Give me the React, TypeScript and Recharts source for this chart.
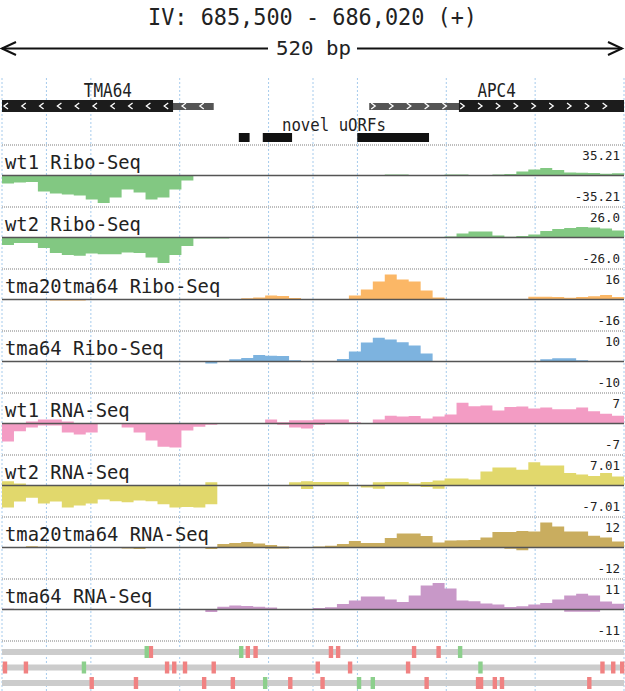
import React from "react";
import {
  AreaChart,
  Area,
  ScatterChart,
  Scatter,
  XAxis,
  YAxis,
  CartesianGrid,
  ReferenceLine,
  ReferenceArea,
} from "recharts";

// window covered: 520 bp, drawn in 10 bp bins
const SPAN = 520;
const BIN = 10;
const W = 625;
const TRACK_H = 62;
const FONT = "'DejaVu Sans Mono', monospace";
const INK = "#222";
const GRID = "#a6cbec";
const SEP = "#bdbdbd";
const M = { top: 0, right: 1, bottom: 0, left: 2 };

const gridTicks = [0, 37.14, 74.29, 111.43, 148.57, 185.71, 222.86, 260, 297.14, 334.29, 371.43, 408.57, 445.71, 482.86, 520];

// ---- coverage tracks (plus strand above, minus strand below) ----
const wt1RiboPlus = [
  0, 0, 0, 0, 0, 0, 0, 0, 0, 0,
  0, 0, 0, 0, 0, 0, 0, 0, 0, 0,
  0, 0, 0, 0, 0, 0, 0, 0, 0, 0,
  0, 0.6, 1.3, 1.3, 0, 0, 0.6, 1.3, 1.3, 0.6,
  0, 1.3, 1.9, 5.1, 7.7, 9.6, 7.0, 3.8, 3.5, 3.2,
  2.2, 2.9,
];
const wt1RiboMinus = [
  -10.2, -9.0, -8.3, -20.5, -23.0, -24.3, -25.6, -30.7, -35.2, -28.2,
  -17.9, -21.8, -30.7, -28.2, -17.9, -6.4, 0, 0, 0, 0,
  0, 0, 0, 0, 0, 0, 0, 0, 0, 0,
  0, 0, 0, 0, 0, 0, 0, 0, 0, 0,
  0, 0, 0, 0, 0, 0, 0, 0, 0, 0,
  0, 0,
];
const wt2RiboPlus = [
  0, 0, 0, 0, 0, 0, 0, 0, 0, 0,
  0, 0, 0, 0, 0, 0, 0, 0, 0, 0,
  0, 0, 0, 0, 0, 0, 0, 0, 0, 0,
  0, 0, 0, 0, 0, 0, 0, 0.9, 3.8, 5.7,
  5.7, 1.9, 0.8, 1.4, 2.8, 6.1, 8.0, 9.0, 9.9, 9.5,
  8.5, 6.6,
];
const wt2RiboMinus = [
  -7.0, -5.2, -5.2, -10.0, -14.6, -16.5, -17.2, -15.1, -15.8, -15.8,
  -14.2, -14.6, -18.9, -24.0, -16.5, -8.0, -0.9, -0.9, -0.9, -0.5,
  0, 0, 0, 0, 0, 0, 0, 0, 0, 0,
  0, 0, 0, 0, 0, 0, 0, 0, 0, 0,
  0, 0, 0, 0, 0, 0, 0, 0, 0, 0,
  0, 0,
];
const dblRiboPlus = [
  0, 0, 0, 0, 0, 0, 0, 0, 0, 0,
  0, 0, 0, 0, 0, 0, 0, 0, 0, 0,
  0.7, 1.2, 2.3, 2.0, 0.9, 0, 0, 0, 0, 2.3,
  5.8, 10.5, 14.5, 11.6, 10.5, 5.2, 1.2, 0, 0, 0,
  0, 0, 0, 0, 1.6, 1.6, 1.5, 1.0, 1.5, 1.9,
  2.6, 1.5,
];
const dblRiboMinus = [
  0, 0, 0, 0, -0.6, -0.6, -0.6, 0, 0, 0,
  0, 0, 0, 0, 0, 0, 0, 0, 0, 0,
  0, 0, 0, 0, 0, 0, 0, 0, 0, 0,
  0, 0, 0, 0, 0, 0, 0, 0, 0, 0,
  0, 0, 0, 0, 0, 0, 0, 0, 0, 0,
  0, 0,
];
const tma64RiboPlus = [
  0, 0, 0, 0, 0, 0, 0, 0, 0, 0,
  0, 0, 0, 0, 0, 0, 0, 0, 0, 0.8,
  1.3, 2.4, 2.1, 2.0, 0.5, 0, 0, 0, 0.9, 3.6,
  6.9, 8.6, 8.0, 7.0, 5.8, 2.9, 0.2, 0, 0, 0,
  0, 0, 0, 0, 0, 0.8, 1.2, 1.2, 0.5, 0,
  0, 0,
];
const tma64RiboMinus = [
  0, 0, 0, 0, 0, 0, 0, 0, 0, 0,
  0, 0, 0, 0, 0, 0, 0, -0.7, 0, 0,
  0, 0, 0, 0, 0, 0, 0, 0, 0, 0,
  0, 0, 0, 0, 0, 0, 0, 0, 0, 0,
  0, 0, 0, 0, 0, 0, 0, 0, 0, 0,
  0, 0,
];
const wt1RnaPlus = [
  0, 0, 0.5, 1.0, 1.0, 0.5, 0, 0, 0, 0,
  0, 0, 0, 0, 0, 0, 0, 0, 0, 0,
  0, 0, 1.0, 0.3, 0.8, 0.8, 1.0, 1.0, 1.0, 0.3,
  0, 1.0, 2.0, 1.8, 1.9, 1.3, 1.8, 2.3, 5.3, 4.4,
  4.6, 3.3, 4.2, 4.3, 3.8, 4.1, 3.6, 3.6, 4.1, 3.1,
  2.5, 2.0,
];
const wt1RnaMinus = [
  -4.6, -2.0, -1.0, -0.5, -0.5, -2.3, -2.8, -2.3, 0, 0,
  -1.0, -2.3, -4.3, -5.9, -6.1, -1.8, -0.8, -0.3, 0, 0,
  0, 0, 0, -0.3, -1.0, -1.3, -0.3, 0, 0, 0,
  0, 0, 0, 0, 0, 0, 0, 0, 0, 0,
  0, 0, 0, 0, 0, 0, 0, 0, 0, 0,
  0, 0,
];
const wt2RnaPlus = [
  1.1, 0.5, 0, 0, 0, 0, 0, 0, 0, 0,
  0, 0, 0, 0, 0, 0, 0, 0.8, 0, 0,
  0, 0, 0, 0, 0.8, 1.1, 0.9, 0.9, 0.9, 0,
  0, 0.8, 0.9, 0.9, 0.5, 0.9, 1.3, 1.8, 1.8, 1.5,
  3.6, 4.6, 4.6, 4.0, 5.9, 5.1, 5.1, 3.2, 2.8, 2.4,
  3.2, 2.3,
];
const wt2RnaMinus = [
  -5.6, -4.1, -3.1, -4.6, -4.1, -5.6, -5.1, -4.6, -3.6, -4.0,
  -4.3, -3.8, -4.0, -4.8, -5.6, -5.5, -5.6, -4.8, 0, 0,
  0, 0, 0, 0, 0, -0.9, 0, 0, 0, 0,
  -0.5, -0.8, 0, 0, 0, -0.4, -0.8, 0, 0, 0,
  0, 0, 0, 0, 0, 0, 0, 0, 0, 0,
  0, 0,
];
const dblRnaPlus = [
  0, 0, 0.5, 0.3, 0, 0, 0, 0, 0, 0,
  0, 0, 0, 0, 0, 0, 0, 0, 1.5, 2.0,
  2.4, 1.7, 1.1, 0.4, 0, 0, 0.4, 0.8, 1.5, 2.8,
  2.0, 2.0, 4.1, 6.1, 6.1, 5.0, 2.2, 3.1, 3.2, 3.3,
  4.4, 6.8, 6.8, 7.2, 7.0, 10.9, 9.2, 7.0, 7.0, 5.1,
  4.4, 2.6,
];
const dblRnaMinus = [
  0, 0, 0, 0, 0, 0, 0, 0, 0, 0,
  -0.4, -0.7, 0, 0, 0, 0, 0, -0.7, 0, 0,
  0, 0, -0.4, -0.4, 0, 0, 0, 0, 0, 0,
  0, 0, 0, 0, 0, 0, 0, 0, 0, 0,
  0, 0, -0.5, -1.2, 0, 0, 0, 0, 0, 0,
  0, 0,
];
const tma64RnaPlus = [
  0.3, 0, 0, 0, 0, 0, 0, 0, 0, 0,
  0, 0, 0, 0, 0, 0, 0, 0.2, 1.1, 1.6,
  1.4, 1.1, 0.8, 0, 0, 0, 0.6, 0.9, 2.2, 3.6,
  5.2, 5.2, 4.0, 3.0, 5.6, 9.6, 10.6, 8.4, 3.6, 3.3,
  2.4, 2.0, 1.0, 1.3, 2.0, 2.6, 4.0, 5.6, 6.3, 5.6,
  3.2, 2.3,
];
const tma64RnaMinus = [
  0, 0, 0, 0, 0, 0, 0, 0, 0, 0,
  0, 0, 0, 0, 0, 0, 0, -1.0, 0, 0,
  0, 0, 0, 0, 0, 0, 0, 0, 0, 0,
  0, 0, 0, 0, 0, 0, 0, 0, 0, 0,
  0, 0, 0, 0, 0, 0, 0, -0.9, -0.9, -0.9,
  -0.2, 0,
];

const trackNames = [
  "wt1 Ribo-Seq", "wt2 Ribo-Seq", "tma20tma64 Ribo-Seq", "tma64 Ribo-Seq",
  "wt1 RNA-Seq", "wt2 RNA-Seq", "tma20tma64 RNA-Seq", "tma64 RNA-Seq",
];
const trackMaxLabels = ["35.21", "26.0", "16", "10", "7", "7.01", "12", "11"];
const trackColors = ["#82c882", "#82c882", "#fbb766", "#7db3df", "#f39cc4", "#e1d86c", "#c9ad5f", "#c898c8"];
const trackPlus = [wt1RiboPlus, wt2RiboPlus, dblRiboPlus, tma64RiboPlus, wt1RnaPlus, wt2RnaPlus, dblRnaPlus, tma64RnaPlus];
const trackMinus = [wt1RiboMinus, wt2RiboMinus, dblRiboMinus, tma64RiboMinus, wt1RnaMinus, wt2RnaMinus, dblRnaMinus, tma64RnaMinus];

// ---- annotation (bp from window start) ----
const geneNames = ["TMA64", "APC4"];
const geneStrands = ["-", "+"];
const geneStarts = [0, 307];
const geneEnds = [177, 520];
const cdsStarts = [0, 382];
const cdsEnds = [143, 520];
const uorfStarts = [198, 218, 297];
const uorfEnds = [207, 242.5, 357];

// ---- start / stop codons per reading frame ----
const frames = [1, 2, 3];
const startCodons = [
  [121, 200, 383],
  [68.5, 400],
  [220, 298.5, 310],
];
const stopCodons = [
  [124.5, 205.5, 212, 275, 281, 344.5, 365],
  [2.5, 20, 138, 144, 153, 177, 264, 291, 339.5, 502, 511, 518.5],
  [75, 112, 169, 193, 241, 268, 355, 398, 400.5, 412, 418, 491],
];

const txt = { fontFamily: FONT, fill: INK };

function Header() {
  return (
    <svg width={W} height={78} style={{ display: "block" }}>
      <text x={312.5} y={25} textAnchor="middle" fontSize={22.5} textLength={329} lengthAdjust="spacingAndGlyphs" {...txt}>
        IV: 685,500 - 686,020 (+)
      </text>
      <g stroke="#111" strokeWidth={2} fill="none">
        <line x1={2} y1={48.5} x2={268} y2={48.5} />
        <line x1={357} y1={48.5} x2={622} y2={48.5} />
        <polyline points="16,42 2,48.5 16,55" />
        <polyline points="608,42 622,48.5 608,55" />
      </g>
      <text x={313.5} y={55} textAnchor="middle" fontSize={20} textLength={75} lengthAdjust="spacingAndGlyphs" {...txt}>
        520 bp
      </text>
    </svg>
  );
}

const chevrons = (strand: string) => (p: any) => {
  const { x, y, width, height } = p;
  const cy = y + height / 2;
  const marks = [];
  for (let cx = x + 4; cx < x + width - 2; cx += 17.8) {
    const pts = strand === "-"
      ? `${cx + 2},${cy - 3} ${cx - 2},${cy} ${cx + 2},${cy + 3}`
      : `${cx - 2},${cy - 3} ${cx + 2},${cy} ${cx - 2},${cy + 3}`;
    marks.push(<polyline key={cx} points={pts} fill="none" stroke="#fff" strokeWidth={1.3} />);
  }
  return <g>{marks}</g>;
};

function GeneTrack() {
  const labels = geneNames.map((n, i) => ({ pos: (geneStarts[i] + geneEnds[i]) / 2, row: 18.5, label: n, size: 19, len: n.length * 9.6 }));
  labels.push({ pos: (uorfStarts[0] + uorfEnds[uorfEnds.length - 1]) / 2, row: 52.5, label: "novel uORFs", size: 17.5, len: 104 });
  return (
    <ScatterChart width={W} height={66} margin={M}>
      <CartesianGrid horizontal={false} stroke={GRID} strokeDasharray="2 2" />
      <XAxis type="number" dataKey="pos" domain={[0, SPAN]} ticks={gridTicks} hide />
      <YAxis type="number" dataKey="row" domain={[0, 66]} reversed hide />
      {geneNames.map((n, i) => (
        <ReferenceArea key={n + "u"} x1={geneStarts[i]} x2={geneEnds[i]} y1={25} y2={32} fill="#555" fillOpacity={1} stroke="none" />
      ))}
      {geneNames.map((n, i) => (
        <ReferenceArea key={n + "c"} x1={cdsStarts[i]} x2={cdsEnds[i]} y1={22} y2={34} fill="#1c1c1c" fillOpacity={1} stroke="none" />
      ))}
      {geneNames.map((n, i) => (
        <ReferenceArea key={n + "a"} x1={geneStarts[i]} x2={geneEnds[i]} y1={22} y2={34} fill="none" stroke="none" shape={chevrons(geneStrands[i])} />
      ))}
      {uorfStarts.map((s, i) => (
        <ReferenceArea key={"o" + i} x1={s} x2={uorfEnds[i]} y1={55} y2={64} fill="#111" fillOpacity={1} stroke="none" />
      ))}
      <Scatter
        data={labels}
        isAnimationActive={false}
        shape={(p: any) => (
          <text x={p.cx} y={p.cy} textAnchor="middle" fontSize={p.payload.size} textLength={p.payload.len} lengthAdjust="spacingAndGlyphs" {...txt}>
            {p.payload.label}
          </text>
        )}
      />
    </ScatterChart>
  );
}

function Track({ idx }: { idx: number }) {
  const plus = trackPlus[idx];
  const minus = trackMinus[idx];
  const data = plus.map((v, i) => ({ pos: i * BIN, plus: v, minus: minus[i] }));
  data.push({ pos: SPAN, plus: plus[plus.length - 1], minus: minus[minus.length - 1] });
  const max = parseFloat(trackMaxLabels[idx]);
  const d = (max * 30.5) / 27.5;
  const name = trackNames[idx];
  const lab = trackMaxLabels[idx];
  return (
    <div style={{ position: "relative", width: W, height: TRACK_H }}>
      <AreaChart width={W} height={TRACK_H} data={data} margin={{ top: 1, right: 1, bottom: 0, left: 2 }}>
        <CartesianGrid horizontal={false} stroke={GRID} strokeDasharray="2 2" />
        <XAxis type="number" dataKey="pos" domain={[0, SPAN]} ticks={gridTicks} hide />
        <YAxis type="number" domain={[-d, d]} hide allowDataOverflow />
        <Area type="stepAfter" dataKey="plus" baseValue={0} stroke="none" fill={trackColors[idx]} fillOpacity={1} dot={false} activeDot={false} isAnimationActive={false} />
        <Area type="stepAfter" dataKey="minus" baseValue={0} stroke="none" fill={trackColors[idx]} fillOpacity={1} dot={false} activeDot={false} isAnimationActive={false} />
        <ReferenceLine y={0} stroke="#555" strokeWidth={1.6} />
        <ReferenceLine y={d} stroke={SEP} strokeWidth={2} strokeDasharray="1 1" />
      </AreaChart>
      <svg width={W} height={TRACK_H} style={{ position: "absolute", left: 0, top: 0, pointerEvents: "none" }}>
        <text x={5} y={24.5} fontSize={19.5} textLength={name.length * 11.33} lengthAdjust="spacingAndGlyphs" {...txt}>
          {name}
        </text>
        <text x={620} y={16} textAnchor="end" fontSize={12.5} {...txt}>
          {lab}
        </text>
        <text x={620} y={57} textAnchor="end" fontSize={12.5} {...txt}>
          {"-" + lab}
        </text>
      </svg>
    </div>
  );
}

const codon = (fill: string) => (p: any) => (
  <rect x={p.cx - 2.2} y={p.cy - 6} width={4.4} height={12} fill={fill} />
);

function FrameTrack() {
  const starts = frames.flatMap((f, i) => startCodons[i].map((pos) => ({ pos, frame: f })));
  const stops = frames.flatMap((f, i) => stopCodons[i].map((pos) => ({ pos, frame: f })));
  const top = 0.29;
  return (
    <ScatterChart width={W} height={51} margin={{ top: 1, right: 1, bottom: 0, left: 2 }}>
      <CartesianGrid horizontal={false} stroke={GRID} strokeDasharray="2 2" />
      <XAxis type="number" dataKey="pos" domain={[0, SPAN]} ticks={gridTicks} hide />
      <YAxis type="number" dataKey="frame" domain={[top, 3.516]} reversed hide allowDataOverflow />
      <ReferenceLine y={top} stroke={SEP} strokeWidth={2} strokeDasharray="1 1" />
      {frames.map((f) => (
        <ReferenceArea key={f} x1={0} x2={SPAN} y1={f - 0.2} y2={f + 0.2} fill="#cccccc" fillOpacity={1} stroke="none" />
      ))}
      <Scatter data={stops} isAnimationActive={false} shape={codon("#f08282")} />
      <Scatter data={starts} isAnimationActive={false} shape={codon("#8ccf8c")} />
    </ScatterChart>
  );
}

export default function App() {
  return (
    <div style={{ position: "absolute", left: 0, top: 0, width: W, height: 691, background: "#fff", overflow: "hidden" }}>
      <Header />
      <GeneTrack />
      {trackNames.map((n, i) => (
        <Track key={n} idx={i} />
      ))}
      <FrameTrack />
    </div>
  );
}
